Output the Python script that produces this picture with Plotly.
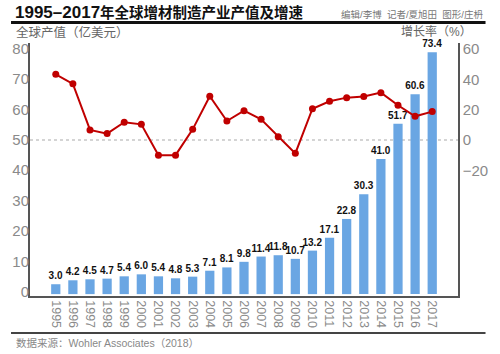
import plotly.graph_objects as go

years = [str(y) for y in range(1995, 2018)]
output_value = [3.0, 4.2, 4.5, 4.7, 5.4, 6.0, 5.4, 4.8, 5.3, 7.1, 8.1, 9.8, 11.4,
                11.8, 10.7, 13.2, 17.1, 22.8, 30.3, 41.0, 51.7, 60.6, 73.4]
growth_rate = [43.3, 37.0, 6.6, 4.2, 11.7, 10.3, -10.0, -10.0, 7.0, 28.8, 12.5, 19.3,
               13.6, 2.2, -8.8, 20.6, 25.5, 27.9, 28.6, 31.2, 22.9, 15.6, 18.7]
left_ticks = [0, 10, 20, 30, 40, 50, 60, 70, 80]
right_ticks = [-20, 0, 20, 40, 60]

W, H = 500, 354
L, R, T, B = 20, 29, 43, 58
PW, PH = W - L - R, H - T - B

def px(x):
    return (x - L) / PW

def py(y):
    return (H - B - y) / PH

cjk = "Liberation Sans, Noto Sans CJK SC, sans-serif"
num = "Liberation Sans, Arial, sans-serif"
gray = "#8a8a8a"
axis_line = "#555555"

fig = go.Figure()
fig.add_trace(go.Bar(
    x=years, y=output_value,
    marker=dict(color="#6aa6e3", line=dict(width=0)),
    text=[f"{v:.1f}" for v in output_value], textposition="outside",
    textfont=dict(family=num, size=10, color="#111111", weight="bold"),
    constraintext="none", cliponaxis=False, showlegend=False, hoverinfo="x+y",
))
# registers the left labelled scale (no marks)
fig.add_trace(go.Scatter(x=[], y=[], yaxis="y2", mode="markers",
                         showlegend=False, hoverinfo="skip"))
fig.add_trace(go.Scatter(
    x=years, y=growth_rate, yaxis="y3", mode="lines+markers",
    line=dict(color="#c00000", width=2),
    marker=dict(color="#c00000", size=7),
    showlegend=False, cliponaxis=False,
))

fig.update_layout(
    width=W, height=H,
    margin=dict(l=L, r=R, t=T, b=B, pad=0),
    paper_bgcolor="white", plot_bgcolor="white",
    bargap=0.46,
    xaxis=dict(
        type="category", categoryorder="array", categoryarray=years,
        showgrid=False, zeroline=False,
        showline=True, linecolor=axis_line, linewidth=1.5,
        tickangle=90, ticks="",
        tickfont=dict(family=num, size=12.5, color=gray),
    ),
    yaxis=dict(
        range=[-0.57, 76.18], autorange=False, showticklabels=False,
        showgrid=False, zeroline=False, showline=True, linecolor=axis_line,
        linewidth=1.5, ticks="",
    ),
    yaxis2=dict(
        range=[-1.31, 81.75], autorange=False, overlaying="y", side="left",
        tickvals=left_ticks, showgrid=False, zeroline=False, showline=False,
        ticks="", tickfont=dict(family=num, size=15, color=gray),
    ),
    yaxis3=dict(
        range=[-102.8, 63.9], autorange=False, overlaying="y", side="right",
        tickvals=right_ticks, showgrid=False, zeroline=False,
        showline=True, linecolor=axis_line, linewidth=1.5, ticks="",
        tickfont=dict(family=num, size=15, color=gray),
    ),
    font=dict(family=cjk),
)

fig.add_shape(type="line", xref="paper", yref="y3", x0=0, x1=1, y0=0, y1=0,
              line=dict(color="#aaaaaa", width=1.2, dash="dot"), layer="below")
fig.add_shape(type="line", xref="paper", yref="paper", x0=px(0), x1=px(500),
              y0=py(22.5), y1=py(22.5), line=dict(color="#111111", width=3))
fig.add_shape(type="line", xref="paper", yref="paper", x0=px(0), x1=px(500),
              y0=py(333), y1=py(333), line=dict(color="#444444", width=2))

ann = [
    dict(text="<b><span style='font-size:17px'>1995–2017</span>年全球增材制造产业产值及增速</b>",
         x=px(2), y=py(12), xanchor="left", font=dict(size=14.5, color="#111111")),
    dict(text="编辑/李博  记者/夏旭田  图形/庄枬", x=px(499), y=py(15),
         xanchor="right", font=dict(size=9.5, color="#777777")),
    dict(text="全球产值（亿美元）", x=px(3), y=py(32.5), xanchor="left",
         font=dict(size=12.5, color="#666666")),
    dict(text="增长率（%）", x=px(488), y=py(31.5), xanchor="right",
         font=dict(size=12, color="#666666")),
    dict(text="数据来源：Wohler Associates（2018）", x=px(3), y=py(343),
         xanchor="left", font=dict(size=10.5, color="#888888")),
]
for a in ann:
    fig.add_annotation(xref="paper", yref="paper", yanchor="middle",
                       showarrow=False, **a)

fig.write_html("out.html")
